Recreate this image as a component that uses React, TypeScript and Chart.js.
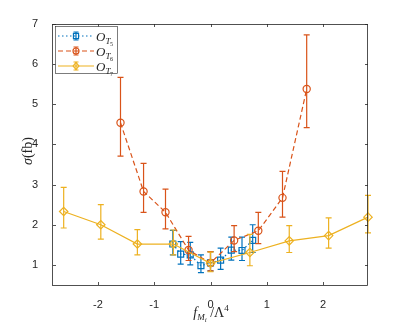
import React, { useEffect, useRef } from 'react';
import { Chart, registerables } from 'chart.js';
Chart.register(...registerables);

// O_T5 (blue, dotted, squares)
const xT5 = [-0.67, -0.53, -0.36, -0.17, 0, 0.18, 0.37, 0.56, 0.75];
const yT5 = [1.52, 1.27, 1.25, 0.98, 1.05, 1.12, 1.37, 1.36, 1.61];
const upT5 = [0.34, 0.31, 0.31, 0.27, 0.28, 0.3, 0.32, 0.33, 0.39];
const dnT5 = [0.27, 0.25, 0.25, 0.17, 0.2, 0.23, 0.25, 0.25, 0.3];
// O_T6 (orange, dashed, circles)
const xT6 = [-1.6, -1.19, -0.8, -0.39, 0, 0.42, 0.85, 1.28, 1.71];
const yT6 = [4.54, 2.83, 2.31, 1.37, 1.05, 1.61, 1.85, 2.67, 5.38];
const upT6 = [1.13, 0.7, 0.58, 0.34, 0.28, 0.37, 0.46, 0.66, 1.35];
const dnT6 = [0.83, 0.52, 0.41, 0.26, 0.2, 0.28, 0.32, 0.48, 0.96];
// O_T7 (yellow, solid, diamonds)
const xT7 = [-2.61, -1.95, -1.3, -0.66, 0, 0.7, 1.4, 2.1, 2.8];
const yT7 = [2.33, 2.0, 1.52, 1.52, 1.04, 1.31, 1.6, 1.73, 2.19];
const upT7 = [0.6, 0.5, 0.36, 0.35, 0.28, 0.45, 0.38, 0.44, 0.54];
const dnT7 = [0.41, 0.36, 0.27, 0.27, 0.21, 0.33, 0.29, 0.31, 0.39];

const xTicks = [-2, -1, 0, 1, 2];
const yTicks = [1, 2, 3, 4, 5, 6, 7];
const seriesSubs = ['5', '6', '7'];

const BLUE = '#0072BD';
const ORANGE = '#D95319';
const YELLOW = '#EDB120';
const AXIS = '#262626';
const SERIF = '"Liberation Serif", "DejaVu Serif", serif';
const SANS = '"Liberation Sans", Arial, sans-serif';

export default function App() {
  const ref = useRef<HTMLCanvasElement>(null);
  useEffect(() => {
    const series = [
      { x: xT5, y: yT5, up: upT5, dn: dnT5, color: BLUE, dash: [1.5, 2.5], marker: 'rect', r: 4.2 },
      { x: xT6, y: yT6, up: upT6, dn: dnT6, color: ORANGE, dash: [5, 3], marker: 'circle', r: 3.6 },
      { x: xT7, y: yT7, up: upT7, dn: dnT7, color: YELLOW, dash: [], marker: 'rectRot', r: 4.2 },
    ];
    const datasets = series.map((s, i) => ({
      data: s.x.map((x, k) => ({ x, y: s.y[k] })),
      borderColor: s.color,
      borderWidth: 1.2,
      borderDash: s.dash,
      pointStyle: s.marker,
      pointRadius: s.r,
      pointBorderColor: s.color,
      pointBackgroundColor: 'rgba(0,0,0,0)',
      pointBorderWidth: 1.2,
      showLine: true,
      fill: false,
      tension: 0,
      order: 2 - i,
      clip: 10,
    }));

    const drawMarker = (ctx: CanvasRenderingContext2D, kind: string, x: number, y: number, r: number) => {
      ctx.beginPath();
      if (kind === 'rect') {
        const s = Math.SQRT1_2 * r;
        ctx.rect(x - s, y - s, 2 * s, 2 * s);
      } else if (kind === 'circle') {
        ctx.arc(x, y, r, 0, Math.PI * 2);
      } else {
        ctx.moveTo(x, y - r);
        ctx.lineTo(x + r * 0.8, y);
        ctx.lineTo(x, y + r);
        ctx.lineTo(x - r * 0.8, y);
        ctx.closePath();
      }
      ctx.stroke();
    };

    const errPlugin = {
      id: 'errbars',
      afterDatasetDraw(chart: any, args: any) {
        const s = series[args.index];
        const ctx = chart.ctx as CanvasRenderingContext2D;
        const xs = chart.scales.x, ys = chart.scales.y;
        ctx.save();
        ctx.strokeStyle = s.color;
        ctx.lineWidth = 1.2;
        ctx.setLineDash([]);
        s.x.forEach((xv, k) => {
          const px = xs.getPixelForValue(xv);
          const t = ys.getPixelForValue(s.y[k] + s.up[k]);
          const b = ys.getPixelForValue(s.y[k] - s.dn[k]);
          ctx.beginPath();
          ctx.moveTo(px, t); ctx.lineTo(px, b);
          ctx.moveTo(px - 3, t); ctx.lineTo(px + 3, t);
          ctx.moveTo(px - 3, b); ctx.lineTo(px + 3, b);
          ctx.stroke();
        });
        ctx.restore();
      },
    };

    const decorPlugin = {
      id: 'decor',
      afterDraw(chart: any) {
        const ctx = chart.ctx as CanvasRenderingContext2D;
        const { left, right, top, bottom } = chart.chartArea;
        const xs = chart.scales.x, ys = chart.scales.y;
        ctx.save();
        // box
        ctx.strokeStyle = AXIS;
        ctx.lineWidth = 0.8;
        ctx.setLineDash([]);
        ctx.strokeRect(left - 0.5, top + 0.5, right - left, bottom - top);
        // inward ticks
        ctx.beginPath();
        xTicks.forEach((v) => {
          const px = Math.round(xs.getPixelForValue(v)) + 0.5;
          ctx.moveTo(px, bottom); ctx.lineTo(px, bottom - 3);
          ctx.moveTo(px, top); ctx.lineTo(px, top + 3);
        });
        yTicks.forEach((v) => {
          const py = Math.round(ys.getPixelForValue(v)) + 0.5;
          ctx.moveTo(left, py); ctx.lineTo(left + 3, py);
          ctx.moveTo(right, py); ctx.lineTo(right - 3, py);
        });
        ctx.stroke();

        // legend
        const lx = 55.5, ly = 26.5, lw = 62, lh = 47;
        ctx.fillStyle = '#ffffff';
        ctx.fillRect(lx, ly, lw, lh);
        ctx.strokeStyle = AXIS;
        ctx.lineWidth = 0.6;
        ctx.strokeRect(lx, ly, lw, lh);
        series.forEach((s, i) => {
          const ry = 36 + 15 * i;
          ctx.strokeStyle = s.color;
          ctx.lineWidth = 1.2;
          ctx.setLineDash(s.dash);
          ctx.beginPath();
          ctx.moveTo(58, ry); ctx.lineTo(94, ry);
          ctx.stroke();
          ctx.setLineDash([]);
          ctx.beginPath();
          ctx.moveTo(76, ry - 4); ctx.lineTo(76, ry + 4);
          ctx.moveTo(73.5, ry - 4); ctx.lineTo(78.5, ry - 4);
          ctx.moveTo(73.5, ry + 4); ctx.lineTo(78.5, ry + 4);
          ctx.stroke();
          drawMarker(ctx, s.marker, 76, ry, s.r - 0.6);
          ctx.fillStyle = AXIS;
          ctx.textBaseline = 'alphabetic';
          ctx.textAlign = 'left';
          ctx.font = `italic 13px ${SERIF}`;
          ctx.fillText('O', 96, ry + 5);
          const ow = ctx.measureText('O').width;
          ctx.font = `italic 9px ${SERIF}`;
          ctx.fillText('T', 96 + ow, ry + 8);
          const tw = ctx.measureText('T').width;
          ctx.font = `6px ${SERIF}`;
          ctx.fillText(seriesSubs[i], 96 + ow + tw - 0.5, ry + 10);
        });

        // x label: f_{M_i}/Λ^4
        ctx.fillStyle = AXIS;
        ctx.textAlign = 'left';
        ctx.textBaseline = 'alphabetic';
        const parts: [string, string, number][] = [
          ['f', `italic 14px ${SERIF}`, 0],
          ['M', `italic 9px ${SERIF}`, 3],
          ['i', `italic 7px ${SERIF}`, 5],
          [' /', `14px ${SERIF}`, 0],
          ['Λ', `14px ${SERIF}`, 0],
          ['4', `9px ${SERIF}`, -6],
        ];
        let total = 0;
        parts.forEach(([t, f]) => { ctx.font = f; total += ctx.measureText(t).width; });
        let cx = 211 - total / 2;
        const base = 317;
        parts.forEach(([t, f, dy]) => {
          ctx.font = f;
          ctx.fillText(t, cx, base + dy);
          cx += ctx.measureText(t).width;
        });
        ctx.restore();

        // y label: σ(fb)
        ctx.save();
        ctx.fillStyle = AXIS;
        ctx.translate(32, 151);
        ctx.rotate(-Math.PI / 2);
        ctx.textBaseline = 'alphabetic';
        ctx.textAlign = 'left';
        ctx.font = `italic 14px ${SERIF}`;
        const sw = ctx.measureText('σ').width;
        ctx.font = `14px ${SERIF}`;
        const rw = ctx.measureText('(fb)').width;
        const start = -(sw + rw) / 2;
        ctx.font = `italic 14px ${SERIF}`;
        ctx.fillText('σ', start, 0);
        ctx.font = `14px ${SERIF}`;
        ctx.fillText('(fb)', start + sw, 0);
        ctx.restore();
      },
    };

    const chart = new Chart(ref.current as HTMLCanvasElement, {
      type: 'scatter',
      data: { datasets: datasets as any },
      options: {
        animation: false,
        responsive: false,
        devicePixelRatio: 1,
        layout: { padding: { top: 24, right: 39, left: 0, bottom: 0 } },
        plugins: { legend: { display: false }, tooltip: { enabled: false } },
        scales: {
          x: {
            type: 'linear',
            min: -2.8,
            max: 2.8,
            grid: { display: false },
            border: { display: false },
            afterBuildTicks: (s: any) => { s.ticks = xTicks.map((v) => ({ value: v })); },
            afterFit: (s: any) => { s.height = 41; },
            ticks: { color: AXIS, font: { family: SANS, size: 11 }, padding: 5, maxRotation: 0, callback: (v: any) => String(v) },
          },
          y: {
            type: 'linear',
            min: 0.5,
            max: 7,
            grid: { display: false },
            border: { display: false },
            afterBuildTicks: (s: any) => { s.ticks = yTicks.map((v) => ({ value: v })); },
            afterFit: (s: any) => { s.width = 53; },
            ticks: { color: AXIS, font: { family: SANS, size: 11 }, padding: 7, callback: (v: any) => String(v) },
          },
        },
      },
      plugins: [errPlugin, decorPlugin],
    });
    return () => chart.destroy();
  }, []);

  return (
    <div style={{ position: 'fixed', left: 0, top: 0, width: 407, height: 326, background: '#fff' }}>
      <canvas ref={ref} width={407} height={326} style={{ display: 'block', width: 407, height: 326 }} />
    </div>
  );
}
